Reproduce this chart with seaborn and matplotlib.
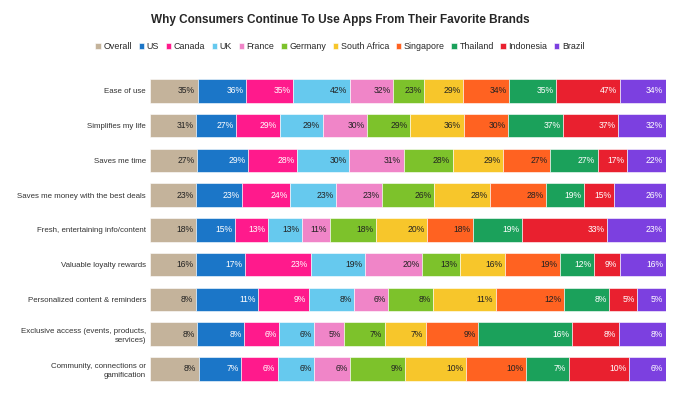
import numpy as np
import pandas as pd
import matplotlib
matplotlib.use("Agg")
import matplotlib.pyplot as plt
import seaborn as sns

# Motivos (linhas) e países (séries)
motivos = [
    "Ease of use",
    "Simplifies my life",
    "Saves me time",
    "Saves me money with the best deals",
    "Fresh, entertaining info/content",
    "Valuable loyalty rewards",
    "Personalized content & reminders",
    "Exclusive access (events, products,\nservices)",
    "Community, connections or\ngamification",
]
paises = ["Overall", "US", "Canada", "UK", "France", "Germany",
          "South Africa", "Singapore", "Thailand", "Indonesia", "Brazil"]

overall = [35, 31, 27, 23, 18, 16, 8, 8, 8]
us = [36, 27, 29, 23, 15, 17, 11, 8, 7]
canada = [35, 29, 28, 24, 13, 23, 9, 6, 6]
uk = [42, 29, 30, 23, 13, 19, 8, 6, 6]
france = [32, 30, 31, 23, 11, 20, 6, 5, 6]
germany = [23, 29, 28, 26, 18, 13, 8, 7, 9]
south_africa = [29, 36, 29, 28, 20, 16, 11, 7, 10]
singapore = [34, 30, 27, 28, 18, 19, 12, 9, 10]
thailand = [35, 37, 27, 19, 19, 12, 8, 16, 7]
indonesia = [47, 37, 17, 15, 33, 9, 5, 8, 10]
brazil = [34, 32, 22, 26, 23, 16, 5, 8, 6]

cores = ["#C4B39B", "#1B76C8", "#FF1A8C", "#66C9EE", "#F085C8", "#7DC22B",
         "#F7C62B", "#FF6221", "#1BA15B", "#E9202F", "#7C40E0"]
texto_branco = {"US", "Canada", "Thailand", "Indonesia", "Brazil"}

df = pd.DataFrame(
    np.array([overall, us, canada, uk, france, germany, south_africa,
              singapore, thailand, indonesia, brazil]).T,
    index=motivos, columns=paises)

# Normalizar cada linha para 100% (barras empilhadas de largura total)
norm = df.div(df.sum(axis=1), axis=0)

sns.set_theme(style="white")
plt.rcParams["font.family"] = ["Liberation Sans", "DejaVu Sans"]

fig = plt.figure(figsize=(6.8, 3.97), dpi=100)
ax = fig.add_axes([0.221, 0.027, 0.758, 0.788])

y = np.arange(len(motivos))
esquerda = np.zeros(len(motivos))
for pais, cor in zip(paises, cores):
    larg = norm[pais].values
    ax.barh(y, larg, left=esquerda, height=0.68, color=cor,
            edgecolor="white", linewidth=0.4, label=pais)
    cor_txt = "white" if pais in texto_branco else "#222222"
    for i in range(len(motivos)):
        ax.text(esquerda[i] + larg[i] - 0.005, y[i], f"{df[pais].iloc[i]}%",
                ha="right", va="center", fontsize=6.2, color=cor_txt)
    esquerda += larg

ax.set_xlim(0, 1)
ax.set_ylim(len(motivos) - 0.5, -0.5)
ax.set_yticks(y)
ax.set_yticklabels(motivos, fontsize=5.7, color="#333333", linespacing=1.35)
ax.set_xticks([])
ax.tick_params(axis="y", length=0, pad=3)
for s in ax.spines.values():
    s.set_visible(False)

fig.suptitle("Why Consumers Continue To Use Apps From Their Favorite Brands",
             x=0.5, y=0.965, fontsize=8.5, fontweight="bold")
fig.legend(loc="center", bbox_to_anchor=(0.5, 0.882), ncol=11, frameon=False,
           fontsize=6.4, handlelength=0.6, handleheight=0.6,
           handletextpad=0.3, columnspacing=0.75)

fig.savefig("out.png", dpi=100)
